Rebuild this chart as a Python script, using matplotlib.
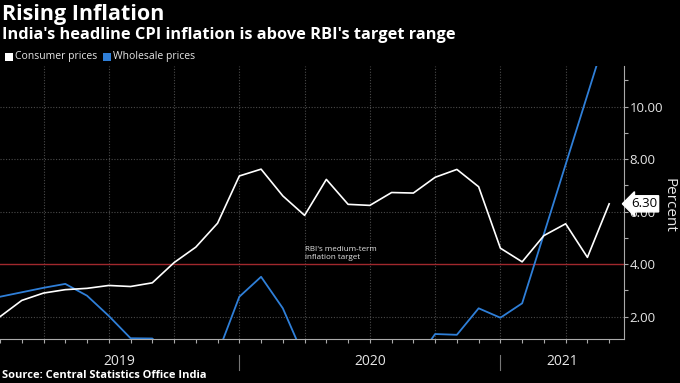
import matplotlib
matplotlib.use("Agg")
import matplotlib.pyplot as plt
from matplotlib.patches import Rectangle
from matplotlib.transforms import blended_transform_factory

plt.rcParams['font.family'] = ['Open Sans', 'DejaVu Sans']

# monthly data, Jan 2019 .. May 2021
months = list(range(29))
cpi = [2.00, 2.62, 2.90, 3.03, 3.08, 3.19, 3.15, 3.29, 4.06, 4.65, 5.56, 7.36,
       7.62, 6.60, 5.86, 7.23, 6.28, 6.24, 6.73, 6.71, 7.31, 7.61, 6.95, 4.61,
       4.09, 5.09, 5.54, 4.26, 6.30]
wpi = [2.76, 2.93, 3.10, 3.25, 2.80, 2.03, 1.18, 1.17, 0.33, 0.16, 0.58, 2.76,
       3.52, 2.32, 0.42, -1.57, -3.37, -1.81, -0.58, 0.16, 1.34, 1.31, 2.32, 1.96,
       2.51, 5.15, 7.80, 10.45, 13.10]
years = ['2019', '2020', '2021']
year_centers = [5.5, 17, 25.84]
year_breaks = [11, 23]
target = 4.0

bg = 'black'
fg = '#e6e6e6'
grid_c = '#4a4a4a'

fig = plt.figure(figsize=(6.8, 3.83), dpi=100, facecolor=bg)
ax = fig.add_axes([0.0, 0.1141, 0.9176, 0.7136], facecolor=bg)

ax.set_xlim(0, 28.68)
ax.set_ylim(1.139, 11.55)

for x in range(2, 29, 3):
    ax.axvline(x, color=grid_c, lw=0.8, ls=(0, (1, 1.5)), zorder=1)
for y in [2, 6, 8, 10]:
    ax.axhline(y, color=grid_c, lw=0.8, ls=(0, (1, 1.5)), zorder=1)
ax.axhline(target, color='#a0282d', lw=1.0, zorder=2)

ax.plot(months, wpi, color='#2f7fd8', lw=1.3, zorder=3)
ax.plot(months, cpi, color='white', lw=1.2, zorder=4)

ax.text(14, 4.12, "RBI's medium-term\ninflation target", color=fg, fontsize=5.8,
        va='bottom', ha='left', linespacing=1.15)

# axes styling
for s in ['top', 'left']:
    ax.spines[s].set_visible(False)
ax.spines['bottom'].set_color('#aaaaaa')
ax.spines['right'].set_color('#aaaaaa')
ax.yaxis.tick_right()
ax.set_yticks([2, 4, 6, 8, 10])
ax.set_yticklabels(['2.00', '4.00', '6.00', '8.00', '10.00'])
ax.set_yticks([3, 5, 7, 9, 11], minor=True)
ax.tick_params(axis='y', which='both', colors='#aaaaaa', labelcolor=fg,
               length=3, width=0.8, labelsize=9.5, pad=1)
ax.set_xticks(months)
ax.set_xticklabels([])
ax.tick_params(axis='x', colors='#aaaaaa', length=3, width=0.8)
fig.text(669 / 680, 1 - 205 / 383, 'Percent', color=fg, fontsize=11,
         rotation=270, ha='center', va='center')

# last value tag
ax.annotate('6.30', xy=(28.68, cpi[-1]), xycoords='data',
            xytext=(5, 0), textcoords='offset points', color='black',
            fontsize=9.5, va='center', ha='left', annotation_clip=False,
            bbox=dict(boxstyle='larrow,pad=0.12', fc='white', ec='white'))

# year labels and separators
tr = blended_transform_factory(ax.transData, ax.transAxes)
for name, xc in zip(years, year_centers):
    ax.text(xc, -0.083, name, transform=tr, color=fg, fontsize=10,
            ha='center', va='center')
for xb in year_breaks:
    ax.plot([xb, xb], [-0.057, -0.112], transform=tr, color='#777777',
            lw=0.8, clip_on=False)

# titles
fig.text(0.003, 0.962, 'Rising Inflation', color='white', fontsize=15.5,
         fontweight='bold', va='center', ha='left')
fig.text(0.003, 0.909, "India's headline CPI inflation is above RBI's target range",
         color='white', fontsize=11.8, fontweight='bold', va='center', ha='left')

# legend
fig.patches.append(Rectangle((5 / 680, 1 - 61 / 383), 8 / 680, 8 / 383,
                             transform=fig.transFigure, fc='white', ec='none'))
fig.text(15 / 680, 1 - 57 / 383, 'Consumer prices', color=fg, fontsize=7.5,
         va='center', ha='left')
fig.patches.append(Rectangle((103 / 680, 1 - 61 / 383), 8 / 680, 8 / 383,
                             transform=fig.transFigure, fc='#2f7fd8', ec='none'))
fig.text(113 / 680, 1 - 57 / 383, 'Wholesale prices', color=fg, fontsize=7.5,
         va='center', ha='left')

fig.text(0.003, 1 - 376 / 383, 'Source: Central Statistics Office India',
         color='white', fontsize=8, fontweight='bold', va='center', ha='left')

fig.savefig('out.png', dpi=100, facecolor=bg)
